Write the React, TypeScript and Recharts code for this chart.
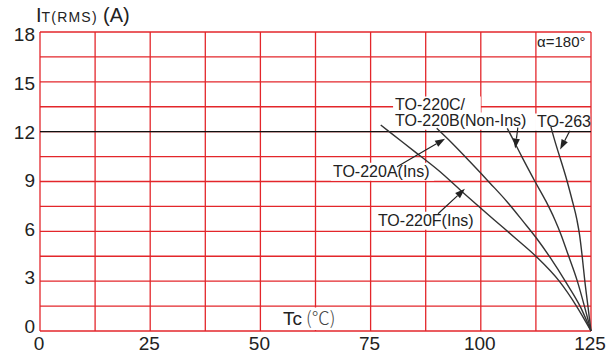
import React from 'react';
import { LineChart, Line, XAxis, YAxis, CartesianGrid, ReferenceLine, ReferenceArea } from 'recharts';

// grid and tick values
const gridTc = [0, 12.5, 25, 37.5, 50, 62.5, 75, 87.5, 100, 112.5, 125];
const gridIt = [0, 1.5, 3, 4.5, 6, 7.5, 9, 10.5, 12, 13.5, 15, 16.5, 18];
const tcLabels = [0, 25, 50, 75, 100, 125];
const itLabels = [0, 3, 6, 9, 12, 15, 18];
const ratedCurrent = 12;

// derating curves, Tc (°C) vs IT(RMS) (A)
const tcF = [77.3, 79.2, 85.0, 90.7, 95.7, 103.0, 107.8, 112.5, 117.8, 121.7, 125];
const itF = [12.4, 12.0, 10.8, 9.6, 8.4, 6.7, 5.6, 4.5, 3.0, 1.5, 0];
const tcA = [90.0, 93.5, 97.5, 102.1, 105.9, 109.6, 112.6, 115.8, 119.4, 122.6, 125];
const itA = [12.2, 11.3, 10.2, 8.9, 7.8, 6.6, 5.6, 4.4, 2.9, 1.45, 0];
const tcC = [106.0, 106.4, 109.3, 112.3, 114.8, 116.8, 118.2, 119.8, 121.9, 123.5, 125];
const itC = [12.2, 12.0, 10.5, 9.0, 7.8, 6.7, 5.8, 4.6, 3.0, 1.5, 0];
const tc263 = [115.9, 116.2, 119.6, 120.7, 121.8, 122.4, 123.0, 123.6, 124.3, 125];
const it263 = [12.3, 12.0, 9.0, 7.9, 6.7, 5.8, 4.5, 3.0, 1.5, 0];

const toPoints = (tc: number[], it: number[]) => tc.map((t, k) => ({ tc: t, it: it[k] }));
const curves = [toPoints(tcF, itF), toPoints(tcA, itA), toPoints(tcC, itC), toPoints(tc263, it263)];

// annotation boxes (white background behind text) in data units
const notes = [
  { text: 'α=180°', x1: 112.3, x2: 124.8, y1: 16.83, y2: 17.8, size: 15, bg: false },
  { text: 'TO-220C/', x1: 80.1, x2: 100.0, y1: 13.09, y2: 14.11, size: 16, bg: true },
  { text: 'TO-220B(Non-Ins)', x1: 80.1, x2: 111.6, y1: 12.12, y2: 13.15, size: 16, bg: true },
  { text: 'TO-263', x1: 112.3, x2: 124.8, y1: 12.06, y2: 13.09, size: 16, bg: true },
  { text: 'TO-220A(Ins)', x1: 66.0, x2: 89.4, y1: 9.05, y2: 10.13, size: 16, bg: true },
  { text: 'TO-220F(Ins)', x1: 76.2, x2: 99.6, y1: 6.09, y2: 7.18, size: 16, bg: true },
];

const arrows = [
  { from: [81.0, 9.89], to: [91.9, 11.58] },
  { from: [90.3, 7.06], to: [96.4, 8.56] },
  { from: [108.4, 12.24], to: [107.8, 10.98] },
  { from: [120.2, 12.06], to: [118.0, 10.92] },
];

const FONT = '"Liberation Sans", Arial, sans-serif';
const INK = '#222';
const RED = '#e3262b';

const noteLabel = (text: string, size: number) => (p: any) => {
  const vb = p.viewBox;
  return (
    <text x={vb.x + 2} y={vb.y + vb.height - 4} fontSize={size} fontFamily={FONT} fill={INK}>
      {text}
    </text>
  );
};

const tcTitle = (p: any) => {
  const vb = p.viewBox;
  return (
    <text x={vb.x + 2} y={vb.y + vb.height - 5} fontFamily={FONT} fill={INK}>
      <tspan fontSize={19}>Tc</tspan>
      <tspan fontSize={18} dx={4} fontFamily='"Noto Sans CJK SC", sans-serif' fontWeight={300} fill="#444">(℃)</tspan>
    </text>
  );
};

const itTitle = (p: any) => {
  const vb = p.viewBox;
  const x = vb.x + vb.width - 4;
  return (
    <text x={x} y={vb.y - 10} fontFamily={FONT} fill={INK}>
      <tspan fontSize={20}>I</tspan>
      <tspan fontSize={14} letterSpacing={1.2}>T(RMS)</tspan>
      <tspan fontSize={20} x={x + 67}>(A)</tspan>
    </text>
  );
};

const XTick = (p: any) => {
  const v = p.payload.value;
  if (!tcLabels.includes(v)) return <g />;
  return (
    <text x={p.x - 1} y={p.y + 19} textAnchor="middle" fontSize={19} fontFamily={FONT} fill={INK}>
      {v}
    </text>
  );
};

const YTick = (p: any) => {
  const v = p.payload.value;
  if (!itLabels.includes(v)) return <g />;
  return (
    <text x={p.x} y={p.y + 2 + (7.4 * v) / 18} textAnchor="end" fontSize={19} fontFamily={FONT} fill={INK}>
      {v}
    </text>
  );
};

const Arrow = (p: any) => {
  const { x1, y1, x2, y2 } = p;
  const a = Math.atan2(y2 - y1, x2 - x1);
  const L = 10;
  const W = 3.5;
  const bx = x2 - L * Math.cos(a);
  const by = y2 - L * Math.sin(a);
  const pts = `${x2},${y2} ${bx + W * Math.sin(a)},${by - W * Math.cos(a)} ${bx - W * Math.sin(a)},${by + W * Math.cos(a)}`;
  return (
    <g>
      <line x1={x1} y1={y1} x2={bx} y2={by} stroke={INK} strokeWidth={1.2} />
      <polygon points={pts} fill={INK} />
    </g>
  );
};

export default function App() {
  return (
    <div style={{ position: 'absolute', left: 0, top: 0, background: '#fff' }}>
      <LineChart width={614} height={353} margin={{ top: 32, right: 23, bottom: 0, left: 0 }}>
        <CartesianGrid stroke={RED} strokeWidth={1.3} />
        <XAxis
          type="number"
          dataKey="tc"
          domain={[0, 125]}
          ticks={gridTc}
          interval={0}
          height={22}
          axisLine={false}
          tickLine={false}
          tickSize={0}
          tickMargin={0}
          tick={XTick}
        />
        <YAxis
          type="number"
          dataKey="it"
          domain={[0, 18]}
          ticks={gridIt}
          interval={0}
          width={40}
          axisLine={false}
          tickLine={false}
          tickSize={0}
          tickMargin={5}
          tick={YTick}
          label={itTitle}
        />
        {notes.map((n) => (
          <ReferenceArea
            key={n.text}
            x1={n.x1}
            x2={n.x2}
            y1={n.y1}
            y2={n.y2}
            fill="#fff"
            fillOpacity={n.bg ? 1 : 0}
            stroke="none"
            label={noteLabel(n.text, n.size)}
          />
        ))}
        <ReferenceArea x1={54.7} x2={70.8} y1={0.06} y2={1.42} fill="#fff" fillOpacity={1} stroke="none" label={tcTitle} />
        <ReferenceLine y={ratedCurrent} stroke="#111" strokeWidth={1.2} />
        {curves.map((c, k) => (
          <Line
            key={k}
            data={c}
            dataKey="it"
            type="monotone"
            stroke="#333"
            strokeWidth={1.4}
            dot={false}
            isAnimationActive={false}
          />
        ))}
        {arrows.map((a, k) => (
          <ReferenceLine
            key={'arr' + k}
            segment={[
              { x: a.from[0], y: a.from[1] },
              { x: a.to[0], y: a.to[1] },
            ]}
            shape={Arrow}
          />
        ))}
      </LineChart>
    </div>
  );
}
